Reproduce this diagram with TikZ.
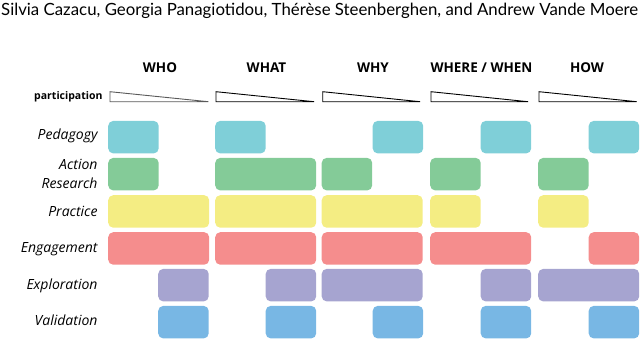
\documentclass[tikz,border=0pt]{standalone}
\usepackage{fontspec}
\setmainfont{Open Sans}
\newfontfamily\titlefont{Lato}
\usepackage{graphicx}
\definecolor{cPed}{RGB}{127,207,216}
\definecolor{cAct}{RGB}{132,203,152}
\definecolor{cPra}{RGB}{244,237,131}
\definecolor{cEng}{RGB}{245,141,141}
\definecolor{cExp}{RGB}{166,164,208}
\definecolor{cVal}{RGB}{120,183,228}
\begin{document}
\begin{tikzpicture}[x=1pt,y=-1pt,
  bar/.style={rectangle,rounded corners=5pt,inner sep=0pt,anchor=north west,minimum height=32.5pt,draw=none},
  half/.style={bar,minimum width=50.5pt},
  full/.style={bar,minimum width=101pt},
  head/.style={font=\fontsize{13.5}{15}\selectfont\bfseries,inner sep=0pt},
  lab/.style={font=\fontsize{14}{16}\selectfont\itshape,inner sep=0pt,anchor=east},
  tri/.style={line width=0.9pt,line join=miter}
]
\useasboundingbox (0,0) rectangle (640,340);
% title
\node[anchor=base west,inner sep=0pt] (title) at (1,16) {\resizebox{637pt}{!}{\titlefont\fontsize{17}{20}\selectfont Silvia Cazacu, Georgia Panagiotidou, Thérèse Steenberghen, and Andrew Vande Moere}};
% headers
\node[head] (hWho) at (160,68) {WHO};
\node[head] (hWhat) at (266.5,68) {WHAT};
\node[head] (hWhy) at (373,68) {WHY};
\node[head] (hWhere) at (481.5,68) {WHERE / WHEN};
\node[head] (hHow) at (587,68) {HOW};
% participation
\node[font=\fontsize{10.5}{12}\selectfont\bfseries,inner sep=0pt,anchor=east] (part) at (102.7,96.5) {participation};
\draw[tri,black!65] (110,91.7) -- (110,101.7) -- (208.3,101.7) -- cycle;
\draw[tri] (216,91.7) -- (216,101.7) -- (314,101.7) -- cycle;
\draw[tri] (322.7,91.7) -- (322.7,101.7) -- (420,101.7) -- cycle;
\draw[tri] (431,91.7) -- (431,101.7) -- (528,101.7) -- cycle;
\draw[tri] (539,91.7) -- (539,101.7) -- (636.7,101.7) -- cycle;
% labels
\node[lab] (lPed) at (97.7,136) {Pedagogy};
\node[lab] (lAct) at (97.7,164) {Action};
\node[lab] (lRes) at (97.7,183) {Research};
\node[lab] (lPra) at (97.7,211) {Practice};
\node[lab] (lEng) at (97.7,249) {Engagement};
\node[lab] (lExp) at (97.7,285.5) {Exploration};
\node[lab] (lVal) at (97.7,320) {Validation};
% group starts: 108, 215, 321.5, 430, 538 ; right half = +50.5
% row 1 Pedagogy
\node[half,fill=cPed] (p1) at (108,120.7) {};
\node[half,fill=cPed] (p2) at (215,120.7) {};
\node[half,fill=cPed] (p3) at (372.5,120.7) {};
\node[half,fill=cPed] (p4) at (480.5,120.7) {};
\node[half,fill=cPed] (p5) at (588.5,120.7) {};
% row 2 Action Research
\node[half,fill=cAct] (a1) at (108,157.7) {};
\node[full,fill=cAct] (a2) at (215,157.7) {};
\node[half,fill=cAct] (a3) at (321.5,157.7) {};
\node[half,fill=cAct] (a4) at (430,157.7) {};
\node[half,fill=cAct] (a5) at (538,157.7) {};
% row 3 Practice
\node[full,fill=cPra] (r1) at (108,195) {};
\node[full,fill=cPra] (r2) at (215,195) {};
\node[full,fill=cPra] (r3) at (321.5,195) {};
\node[half,fill=cPra] (r4) at (430,195) {};
\node[half,fill=cPra] (r5) at (538,195) {};
% row 4 Engagement
\node[full,fill=cEng] (e1) at (108,232) {};
\node[full,fill=cEng] (e2) at (215,232) {};
\node[full,fill=cEng] (e3) at (321.5,232) {};
\node[full,fill=cEng] (e4) at (430,232) {};
\node[half,fill=cEng] (e5) at (588.5,232) {};
% row 5 Exploration
\node[half,fill=cExp] (x1) at (158,268.7) {};
\node[half,fill=cExp] (x2) at (265.5,268.7) {};
\node[full,fill=cExp] (x3) at (321.5,268.7) {};
\node[half,fill=cExp] (x4) at (480.5,268.7) {};
\node[full,fill=cExp] (x5) at (538,268.7) {};
% row 6 Validation
\node[half,fill=cVal] (v1) at (158,305.7) {};
\node[half,fill=cVal] (v2) at (265.5,305.7) {};
\node[half,fill=cVal] (v3) at (372.5,305.7) {};
\node[half,fill=cVal] (v4) at (480.5,305.7) {};
\node[half,fill=cVal] (v5) at (588.5,305.7) {};
\end{tikzpicture}
\end{document}
